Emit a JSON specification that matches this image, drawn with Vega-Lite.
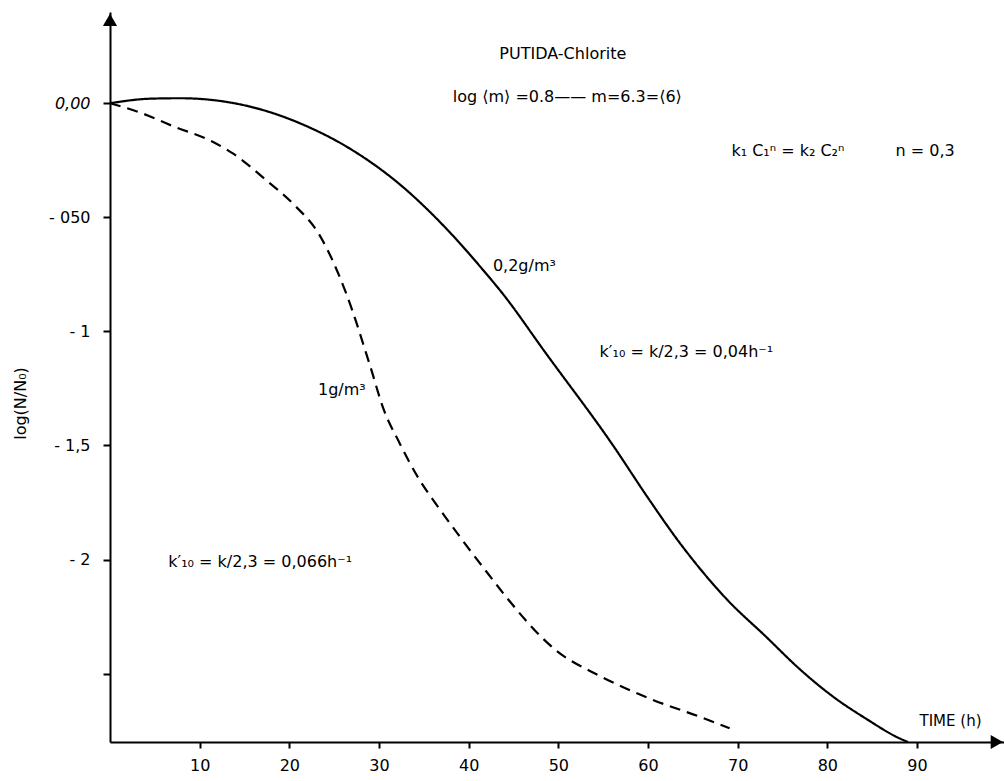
{
  "$schema": "https://vega.github.io/schema/vega-lite/v6.json",
  "width": 894,
  "height": 730,
  "autosize": "none",
  "padding": {"left": 110, "top": 12, "right": 0, "bottom": 39},
  "background": "white",
  "config": {
    "view": {"stroke": null},
    "font": "DejaVu Sans",
    "axis": {"domainColor": "black", "domainWidth": 2, "tickColor": "black", "tickWidth": 2, "labelColor": "black", "titleColor": "black", "grid": false, "labelFont": "DejaVu Sans", "titleFont": "DejaVu Sans", "titleFontWeight": "normal"}
  },
  "datasets": {
    "curves": [
      {"t": 0, "v": 0, "s": "0,2 g/m3"},
      {"t": 4.5, "v": 0.02, "s": "0,2 g/m3"},
      {"t": 7.8, "v": 0.022, "s": "0,2 g/m3"},
      {"t": 11.9, "v": 0.012, "s": "0,2 g/m3"},
      {"t": 17.5, "v": -0.035, "s": "0,2 g/m3"},
      {"t": 21.9, "v": -0.1, "s": "0,2 g/m3"},
      {"t": 26.8, "v": -0.2, "s": "0,2 g/m3"},
      {"t": 32.3, "v": -0.355, "s": "0,2 g/m3"},
      {"t": 37.9, "v": -0.566, "s": "0,2 g/m3"},
      {"t": 41.8, "v": -0.74, "s": "0,2 g/m3"},
      {"t": 43.8, "v": -0.835, "s": "0,2 g/m3"},
      {"t": 48.5, "v": -1.09, "s": "0,2 g/m3"},
      {"t": 56.1, "v": -1.5, "s": "0,2 g/m3"},
      {"t": 60.0, "v": -1.73, "s": "0,2 g/m3"},
      {"t": 63.4, "v": -1.92, "s": "0,2 g/m3"},
      {"t": 68.8, "v": -2.175, "s": "0,2 g/m3"},
      {"t": 73.2, "v": -2.34, "s": "0,2 g/m3"},
      {"t": 76.9, "v": -2.48, "s": "0,2 g/m3"},
      {"t": 80.6, "v": -2.6, "s": "0,2 g/m3"},
      {"t": 84.4, "v": -2.7, "s": "0,2 g/m3"},
      {"t": 88.1, "v": -2.785, "s": "0,2 g/m3"},
      {"t": 89.0, "v": -2.8, "s": "0,2 g/m3"},
      {"t": 0, "v": 0, "s": "1 g/m3"},
      {"t": 3.3, "v": -0.04, "s": "1 g/m3"},
      {"t": 7.0, "v": -0.1, "s": "1 g/m3"},
      {"t": 11.5, "v": -0.17, "s": "1 g/m3"},
      {"t": 13.7, "v": -0.22, "s": "1 g/m3"},
      {"t": 17.5, "v": -0.34, "s": "1 g/m3"},
      {"t": 20.4, "v": -0.44, "s": "1 g/m3"},
      {"t": 23.4, "v": -0.58, "s": "1 g/m3"},
      {"t": 26.4, "v": -0.84, "s": "1 g/m3"},
      {"t": 29.0, "v": -1.15, "s": "1 g/m3"},
      {"t": 30.5, "v": -1.34, "s": "1 g/m3"},
      {"t": 32.3, "v": -1.49, "s": "1 g/m3"},
      {"t": 34.5, "v": -1.65, "s": "1 g/m3"},
      {"t": 36.6, "v": -1.77, "s": "1 g/m3"},
      {"t": 39.2, "v": -1.91, "s": "1 g/m3"},
      {"t": 43.1, "v": -2.11, "s": "1 g/m3"},
      {"t": 44.3, "v": -2.17, "s": "1 g/m3"},
      {"t": 49.8, "v": -2.40, "s": "1 g/m3"},
      {"t": 54.6, "v": -2.51, "s": "1 g/m3"},
      {"t": 60.2, "v": -2.61, "s": "1 g/m3"},
      {"t": 65.8, "v": -2.69, "s": "1 g/m3"},
      {"t": 69.1, "v": -2.74, "s": "1 g/m3"}
    ],
    "labels": [
      {"x": 50.5, "y": 0.215, "text": "PUTIDA-Chlorite", "a": "center"},
      {"x": 51.0, "y": 0.026, "text": "log ⟨m⟩ =0.8—— m=6.3=⟨6⟩", "a": "center"},
      {"x": 75.6, "y": -0.21, "text": "k₁ C₁ⁿ = k₂ C₂ⁿ", "a": "center"},
      {"x": 90.9, "y": -0.21, "text": "n = 0,3", "a": "center"},
      {"x": 42.7, "y": -0.715, "text": "0,2g/m³", "a": "left"},
      {"x": 54.6, "y": -1.09, "text": "k′₁₀ = k/2,3 = 0,04h⁻¹", "a": "left"},
      {"x": 23.2, "y": -1.255, "text": "1g/m³", "a": "left"},
      {"x": 6.5, "y": -2.01, "text": "k′₁₀ = k/2,3 = 0,066h⁻¹", "a": "left"}
    ],
    "arrows": [
      {"x": 0, "y": 0.365, "shape": "triangle-up"},
      {"x": 98.9, "y": -2.8, "shape": "triangle-right"}
    ]
  },
  "layer": [
    {
      "data": {"name": "curves"},
      "mark": {"type": "line", "color": "black", "strokeWidth": 2.2, "interpolate": "monotone", "clip": false},
      "encoding": {
        "x": {"field": "t", "type": "quantitative", "scale": {"domain": [0, 99.7], "nice": false, "zero": false},
          "axis": {"values": [10, 20, 30, 40, 50, 60, 70, 80, 90], "tickSize": 6, "labelPadding": 9, "labelFontSize": 16, "title": "TIME  (h)", "titleFontSize": 15, "titleX": 840, "titleY": -22, "titleAlign": "center", "titleBaseline": "middle"}},
        "y": {"field": "v", "type": "quantitative", "scale": {"domain": [-2.8, 0.4], "nice": false, "zero": false},
          "axis": {"values": [0, -0.5, -1, -1.5, -2, -2.5], "tickSize": 7, "labelPadding": 13, "labelFontSize": 16,
            "labelFontStyle": {"condition": {"test": "datum.value == 0", "value": "italic"}, "value": "normal"},
            "labelExpr": "datum.value == 0 ? '0,00' : datum.value == -0.5 ? '- 050' : datum.value == -1 ? '- 1' : datum.value == -1.5 ? '- 1,5' : datum.value == -2 ? '- 2' : ''",
            "title": "log(N/N₀)", "titleFontSize": 16, "titleX": -90, "titleY": 391, "titleAngle": -90, "titleAlign": "center", "titleBaseline": "middle"}},
        "detail": {"field": "s"},
        "strokeDash": {"field": "s", "type": "nominal", "scale": {"domain": ["0,2 g/m3", "1 g/m3"], "range": [[1, 0], [11, 7]]}, "legend": null}
      }
    },
    {
      "data": {"name": "labels"},
      "transform": [{"filter": "datum.a == 'center'"}],
      "mark": {"type": "text", "align": "center", "baseline": "middle", "fontSize": 16, "color": "black"},
      "encoding": {
        "x": {"field": "x", "type": "quantitative"},
        "y": {"field": "y", "type": "quantitative"},
        "text": {"field": "text"}
      }
    },
    {
      "data": {"name": "labels"},
      "transform": [{"filter": "datum.a == 'left'"}],
      "mark": {"type": "text", "align": "left", "baseline": "middle", "fontSize": 16, "color": "black"},
      "encoding": {
        "x": {"field": "x", "type": "quantitative"},
        "y": {"field": "y", "type": "quantitative"},
        "text": {"field": "text"}
      }
    },
    {
      "data": {"name": "arrows"},
      "mark": {"type": "point", "filled": true, "color": "black", "size": 200, "opacity": 1, "clip": false},
      "encoding": {
        "x": {"field": "x", "type": "quantitative"},
        "y": {"field": "y", "type": "quantitative"},
        "shape": {"field": "shape", "type": "nominal", "scale": null}
      }
    }
  ]
}
